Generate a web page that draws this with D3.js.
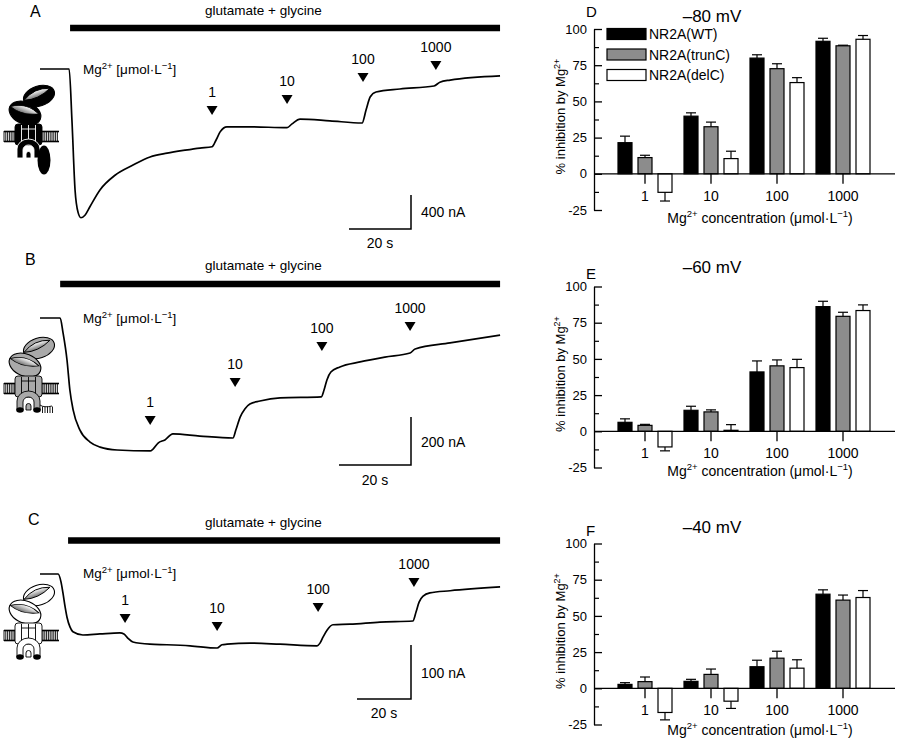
<!DOCTYPE html>
<html>
<head>
<meta charset="utf-8">
<script src="https://cdn.jsdelivr.net/npm/d3@7"></script>
<style>
  body { margin: 0; background: #fff; }
  svg { display: block; }
  text { font-family: "Liberation Sans", Arial, Helvetica, sans-serif; fill: #000; }
</style>
</head>
<body>
<div id="chart"></div>
<script>
// ---- data ----
var mgLevels = ["1", "10", "100", "1000"];
var constructs = ["NR2A(WT)", "NR2A(trunC)", "NR2A(delC)"];
var yTicks = [-25, 0, 25, 50, 75, 100];
var yMinorTicks = [-12.5, 12.5, 37.5, 62.5, 87.5];

// % inhibition by Mg2+, rows = Mg level, columns = WT, trunC, delC
var inhib80 = [[21.5, 11.2, -12.8], [39.8, 32.5, 10.5], [79.9, 72.6, 63.0], [91.5, 88.4, 92.9]];
var sem80   = [[4.5, 1.6, 6.0], [2.3, 3.2, 5.1], [2.3, 3.4, 3.4], [2.1, 0.4, 2.6]];
var inhib60 = [[6.2, 4.1, -10.8], [14.5, 13.4, 0.7], [41.0, 45.2, 44.0], [86.1, 79.4, 83.4]];
var sem60   = [[2.4, 0.7, 2.7], [2.8, 1.4, 3.9], [7.6, 4.1, 5.7], [3.7, 2.8, 3.9]];
var inhib40 = [[2.7, 4.6, -16.7], [4.8, 9.6, -8.9], [14.9, 20.8, 13.9], [65.0, 60.9, 62.7]];
var sem40   = [[1.2, 3.2, 5.1], [1.4, 3.7, 5.0], [4.5, 4.8, 5.8], [3.0, 3.5, 4.8]];

// current traces [time (s), current (nA)]
var traceA = [[0,0],[9.4,0],[10.3,-600],[11.3,-1420],[12.3,-1690],[13.2,-1750],[14.5,-1720],[16.1,-1620],
  [19.4,-1420],[24.2,-1250],[30,-1130],[35.5,-1035],[41,-990],[46.8,-955],[51.6,-930],[55.5,-915],
  [56.8,-835],[58.1,-740],[60.3,-680],[67.7,-680],[79.7,-690],[81.3,-645],[83.9,-590],[93.5,-610],
  [103.9,-635],[105.2,-480],[106.5,-330],[108.4,-270],[116.1,-235],[127.1,-200],[129,-155],
  [132.3,-130],[148.4,-80]];
var traceB = [[0,0],[5.6,0],[6.4,-62],[7.5,-175],[8.3,-300],[9.2,-383],[11.1,-467],[13.9,-517],
  [16.7,-538],[21.4,-550],[30.6,-554],[31.4,-546],[32.8,-521],[34.7,-508],[36.9,-483],[44.4,-492],
  [53.6,-500],[54.4,-467],[55.6,-413],[56.9,-379],[58.3,-358],[61.1,-346],[66.7,-333],[78.1,-329],
  [78.9,-300],[79.7,-258],[80.8,-225],[83.3,-204],[88.9,-183],[95.8,-163],[102.8,-146],[104.2,-129],
  [113.9,-104],[127.8,-71]];
var traceC = [[0,0],[6.7,0],[7.8,-15],[8.5,-35],[9.3,-61],[10,-80],[11.1,-98],[12.2,-107],[15.9,-113],
  [22.2,-111],[29.6,-109],[31.1,-111],[32.6,-119],[34.4,-126],[40.7,-130],[47,-131],[55.6,-133],
  [65.6,-137],[67.4,-131],[69.3,-130],[77.8,-128],[88.9,-130],[102.6,-133],[103.7,-128],[104.8,-117],
  [106.3,-104],[108.5,-94],[114.8,-93],[125.9,-89],[138.1,-87],[139.3,-70],[140.4,-52],[141.9,-41],
  [144.4,-35],[151.9,-31],[170.4,-24]];

// Mg2+ application times (s)
var mgTimesA = [55.5, 79.7, 104.2, 127.7];
var mgTimesB = [30.6, 54.2, 78.3, 102.8];
var mgTimesC = [31.5, 65.6, 103.0, 138.5];
var agonistStart = [9.7, 5.6, 10.4];
var scaleBarNA = [400, 200, 100];
var scaleBarS = 20;

// ---- layout ----
var traceLayout = [
  { letter: "A", kind: "wt", trace: traceA, mg: mgTimesA, x0: 40, px20: 62, y0: 69, pxScale: 34,
    barY: 28, letterPos: [30, 17], titleY: 15, mgLabelY: 74, tips: [115, 104, 82, 70],
    corner: [411, 229], nALabelY: 217, sLabelY: 248, iconTop: 84 },
  { letter: "B", kind: "trunc", trace: traceB, mg: mgTimesB, x0: 40, px20: 72, y0: 318, pxScale: 48,
    barY: 284, letterPos: [25, 265], titleY: 270, mgLabelY: 323, tips: [425, 387, 351, 331],
    corner: [411, 465], nALabelY: 447, sLabelY: 485, iconTop: 336 },
  { letter: "C", kind: "del", trace: traceC, mg: mgTimesC, x0: 40, px20: 54, y0: 574, pxScale: 54,
    barY: 540.5, letterPos: [28, 525], titleY: 527, mgLabelY: 578, tips: [623, 631, 612, 587],
    corner: [411, 699], nALabelY: 678, sLabelY: 718, iconTop: 583 }
];

var barLayout = [
  { letter: "D", title: "\u201380 mV", values: inhib80, sem: sem80, top: 29, bottom: 210,
    letterY: 17, titleY: 22, xLabelY: 223, legend: true },
  { letter: "E", title: "\u201360 mV", values: inhib60, sem: sem60, top: 286.5, bottom: 467.5,
    letterY: 279, titleY: 273, xLabelY: 476, legend: false },
  { letter: "F", title: "\u201340 mV", values: inhib40, sem: sem40, top: 543.5, bottom: 724.5,
    letterY: 536, titleY: 533, xLabelY: 735, legend: false }
];

var svg = d3.select("#chart").append("svg").attr("width", 900).attr("height", 747);

var defs = svg.append("defs");
var grad = defs.append("linearGradient").attr("id", "cleft").attr("x1", 0).attr("x2", 0).attr("y1", 0).attr("y2", 1);
grad.append("stop").attr("offset", "0%").attr("stop-color", "#fff");
grad.append("stop").attr("offset", "100%").attr("stop-color", "#6f6f6f");

// ---- receptor cartoon ----
function receptor(g, kind) {
  var fill = kind === "wt" ? "#000" : kind === "trunc" ? "#a9a9a9" : "#fff";
  var edge = kind === "wt" ? "#fff" : "#000";

  // lipid bilayer
  var m = g.append("g").attr("stroke", "#000").attr("stroke-width", 0.9);
  d3.range(0, 11, 1.8).concat(d3.range(39, 55, 1.8)).forEach(function (x) {
    m.append("line").attr("x1", x).attr("x2", x).attr("y1", 47).attr("y2", 58);
  });
  [[0, 11], [38, 55]].forEach(function (s) {
    m.append("line").attr("x1", s[0]).attr("x2", s[1]).attr("y1", 47.5).attr("y2", 47.5).attr("stroke-width", 1.6);
    m.append("line").attr("x1", s[0]).attr("x2", s[1]).attr("y1", 57.5).attr("y2", 57.5).attr("stroke-width", 1.6);
  });

  function lobe(cx, cy, rx, ry, rot) {
    var l = g.append("g").attr("transform", "translate(" + cx + "," + cy + ") rotate(" + rot + ")");
    l.append("ellipse").attr("rx", rx).attr("ry", ry).attr("fill", fill).attr("stroke", "#000").attr("stroke-width", 1.1);
    l.append("path")
      .attr("d", "M" + (-rx * 0.97) + "," + (-ry * 0.05) +
        " Q" + (-rx * 0.15) + "," + (-ry * 0.95) + " " + (rx * 0.8) + "," + (-ry * 0.4) +
        " Q" + (-rx * 0.1) + "," + (ry * 0.35) + " " + (-rx * 0.97) + "," + (-ry * 0.05) + "Z")
      .attr("fill", "url(#cleft)").attr("stroke", "#000").attr("stroke-width", 0.9);
  }
  lobe(35, 12, 16, 10, -18);
  lobe(21, 29, 16.5, 11, 22);

  // transmembrane part
  var tm = g.append("g").attr("fill", fill).attr("stroke", "#000").attr("stroke-width", 0.9);
  tm.append("rect").attr("x", 11).attr("y", 40).attr("width", 27).attr("height", 21).attr("rx", 3);
  [17.5, 24.5, 31.5].forEach(function (x) {
    tm.append("line").attr("x1", x).attr("x2", x).attr("y1", 41).attr("y2", 60).attr("stroke", edge);
  });
  tm.append("line").attr("x1", 17.5).attr("x2", 31.5).attr("y1", 45).attr("y2", 45).attr("stroke", edge);
  tm.append("path").attr("d", "M13,74 V65 A11.5,10 0 0 1 36,65 V74 H30 V66 A5.5,5 0 0 0 19,66 V74 Z")
    .attr("stroke", edge);
  tm.append("path").attr("d", "M22,74 V70 A2.5,2.5 0 0 1 27,70 V74 Z").attr("stroke", edge);
  if (kind !== "wt") {
    g.append("ellipse").attr("cx", 16).attr("cy", 74).attr("rx", 3.8).attr("ry", 2.8).attr("fill", "#000");
    g.append("ellipse").attr("cx", 33).attr("cy", 74).attr("rx", 3.8).attr("ry", 2.8).attr("fill", "#000");
  }
  if (kind === "wt") {
    g.append("ellipse").attr("cx", 40).attr("cy", 76).attr("rx", 6.5).attr("ry", 14.5).attr("fill", "#000");
  }
  if (kind === "trunc") {
    var f = g.append("g").attr("stroke", "#000").attr("stroke-width", 0.9).attr("fill", "none");
    f.append("path").attr("d", "M36,69 Q40,72 48,70");
    [38.5, 41, 43.5, 46, 48.5].forEach(function (x) {
      f.append("line").attr("x1", x).attr("x2", x).attr("y1", 70.5).attr("y2", 77);
    });
  }
}

// ---- trace panels ----
traceLayout.forEach(function (p, i) {
  var g = svg.append("g");
  var x = d3.scaleLinear().domain([0, scaleBarS]).range([p.x0, p.x0 + p.px20]);
  var y = d3.scaleLinear().domain([0, -scaleBarNA[i]]).range([p.y0, p.y0 + p.pxScale]);
  var tEnd = p.trace[p.trace.length - 1][0];

  g.append("text").attr("x", p.letterPos[0]).attr("y", p.letterPos[1])
    .style("font-size", "16px").text(p.letter);
  g.append("text").attr("x", 205).attr("y", p.titleY).style("font-size", "13.5px").text("glutamate + glycine");
  g.append("line").attr("x1", x(agonistStart[i])).attr("x2", x(tEnd))
    .attr("y1", p.barY).attr("y2", p.barY).attr("stroke", "#000").attr("stroke-width", 6.5);

  var mgT = g.append("text").attr("x", 83).attr("y", p.mgLabelY).style("font-size", "13.5px");
  mgT.append("tspan").text("Mg");
  mgT.append("tspan").attr("dy", -5).style("font-size", "9.5px").text("2+");
  mgT.append("tspan").attr("dy", 5).text(" [\u03bcmol\u00b7L");
  mgT.append("tspan").attr("dy", -5).style("font-size", "9.5px").text("\u22121");
  mgT.append("tspan").attr("dy", 5).text("]");

  var line = d3.line().x(function (d) { return x(d[0]); }).y(function (d) { return y(d[1]); })
    .curve(d3.curveMonotoneX);
  g.append("path").datum(p.trace).attr("d", line)
    .attr("fill", "none").attr("stroke", "#000").attr("stroke-width", 1.7).attr("stroke-linejoin", "round");

  p.mg.forEach(function (t, k) {
    var cx = x(t), tip = p.tips[k];
    g.append("path").attr("d", "M" + (cx - 5.5) + "," + (tip - 9) + " L" + (cx + 5.5) + "," + (tip - 9) + " L" + cx + "," + tip + "Z")
      .attr("fill", "#000");
    g.append("text").attr("x", cx).attr("y", tip - 18).attr("text-anchor", "middle")
      .style("font-size", "14px").text(mgLevels[k]);
  });

  // scale bars
  var cx = p.corner[0], cy = p.corner[1];
  var h = y(-scaleBarNA[i]) - y(0), w = x(scaleBarS) - x(0);
  g.append("path").attr("d", "M" + cx + "," + (cy - h) + " V" + cy + " H" + (cx - w))
    .attr("fill", "none").attr("stroke", "#000").attr("stroke-width", 1.5);
  g.append("text").attr("x", cx + 10).attr("y", p.nALabelY).style("font-size", "14px").text(scaleBarNA[i] + " nA");
  g.append("text").attr("x", cx - w / 2).attr("y", p.sLabelY).attr("text-anchor", "middle")
    .style("font-size", "14px").text(scaleBarS + " s");

  receptor(svg.append("g").attr("transform", "translate(4," + p.iconTop + ")"), p.kind);
});

// ---- bar panels ----
var x0 = d3.scaleBand().domain(mgLevels).range([612, 876]);
var x1 = d3.scaleBand().domain(constructs).range([-27, 27]).paddingInner(0.3);
var color = d3.scaleOrdinal().domain(constructs).range(["#000", "#8c8c8c", "#fff"]);
var axisX = 594;

barLayout.forEach(function (p) {
  var g = svg.append("g");
  var y = d3.scaleLinear().domain([-25, 100]).range([p.bottom, p.top]);

  g.append("text").attr("x", 586).attr("y", p.letterY).style("font-size", "15px").text(p.letter);
  g.append("text").attr("x", 712).attr("y", p.titleY).attr("text-anchor", "middle")
    .style("font-size", "17px").text(p.title);

  var ya = g.append("g").attr("transform", "translate(" + axisX + ",0)")
    .call(d3.axisLeft(y).tickValues(yTicks).tickSizeInner(-8).tickSizeOuter(0).tickPadding(7)
      .tickFormat(function (d) { return String(d); }));
  ya.select(".domain").attr("stroke-width", 1.3);
  ya.selectAll(".tick line").attr("stroke-width", 1.3);
  ya.selectAll(".tick text").style("font-size", "13px").style("font-family", "'Liberation Sans', Arial, sans-serif");
  var ym = g.append("g").attr("transform", "translate(" + axisX + ",0)")
    .call(d3.axisLeft(y).tickValues(yMinorTicks).tickSizeInner(-5).tickSizeOuter(0).tickFormat(""));
  ym.select(".domain").remove();
  ym.selectAll(".tick line").attr("stroke-width", 1.2);

  var yl = g.append("text").attr("transform", "translate(565," + ((p.top + p.bottom) / 2 - 3) + ") rotate(-90)")
    .attr("text-anchor", "middle").style("font-size", "13px");
  yl.append("tspan").text("% inhibition by Mg");
  yl.append("tspan").attr("dy", -5).style("font-size", "9px").text("2+");

  // bars
  p.values.forEach(function (row, li) {
    row.forEach(function (v, ci) {
      var c = constructs[ci];
      var bx = x0(mgLevels[li]) + x0.bandwidth() / 2 + x1(c);
      g.append("rect").attr("x", bx).attr("width", x1.bandwidth())
        .attr("y", y(Math.max(v, 0))).attr("height", Math.abs(y(v) - y(0)))
        .attr("fill", color(c)).attr("stroke", "#000").attr("stroke-width", 1.2);
      var e = v >= 0 ? v + p.sem[li][ci] : v - p.sem[li][ci];
      var mx = bx + x1.bandwidth() / 2;
      g.append("line").attr("x1", mx).attr("x2", mx).attr("y1", y(v)).attr("y2", y(e))
        .attr("stroke", "#000").attr("stroke-width", 1.2);
      g.append("line").attr("x1", mx - 5).attr("x2", mx + 5).attr("y1", y(e)).attr("y2", y(e))
        .attr("stroke", "#000").attr("stroke-width", 1.2);
    });
  });

  // zero line and category axis
  g.append("line").attr("x1", axisX).attr("x2", 895).attr("y1", y(0)).attr("y2", y(0))
    .attr("stroke", "#000").attr("stroke-width", 1.3);
  var xa = g.append("g").attr("transform", "translate(0," + y(0) + ")")
    .call(d3.axisBottom(x0).tickSizeInner(10).tickSizeOuter(0).tickPadding(7));
  xa.select(".domain").remove();
  xa.selectAll(".tick line").attr("stroke-width", 1.3);
  xa.selectAll(".tick text").style("font-size", "14px").style("font-family", "'Liberation Sans', Arial, sans-serif");

  var xl = g.append("text").attr("x", 760).attr("y", p.xLabelY).attr("text-anchor", "middle").style("font-size", "14px");
  xl.append("tspan").text("Mg");
  xl.append("tspan").attr("dy", -6).style("font-size", "9.5px").text("2+");
  xl.append("tspan").attr("dy", 6).text(" concentration (\u03bcmol\u00b7L");
  xl.append("tspan").attr("dy", -6).style("font-size", "9.5px").text("\u22121");
  xl.append("tspan").attr("dy", 6).text(")");

  if (p.legend) {
    var lg = g.append("g").attr("transform", "translate(607,34)");
    constructs.forEach(function (c, k) {
      var row = lg.append("g").attr("transform", "translate(0," + k * 20.5 + ")");
      row.append("rect").attr("x", 0).attr("y", -5.5).attr("width", 39).attr("height", 11)
        .attr("fill", color(c)).attr("stroke", "#000").attr("stroke-width", 1.2);
      row.append("text").attr("x", 42).attr("y", 0).attr("dy", "0.36em").style("font-size", "14px").text(c);
    });
  }
});
</script>
</body>
</html>
